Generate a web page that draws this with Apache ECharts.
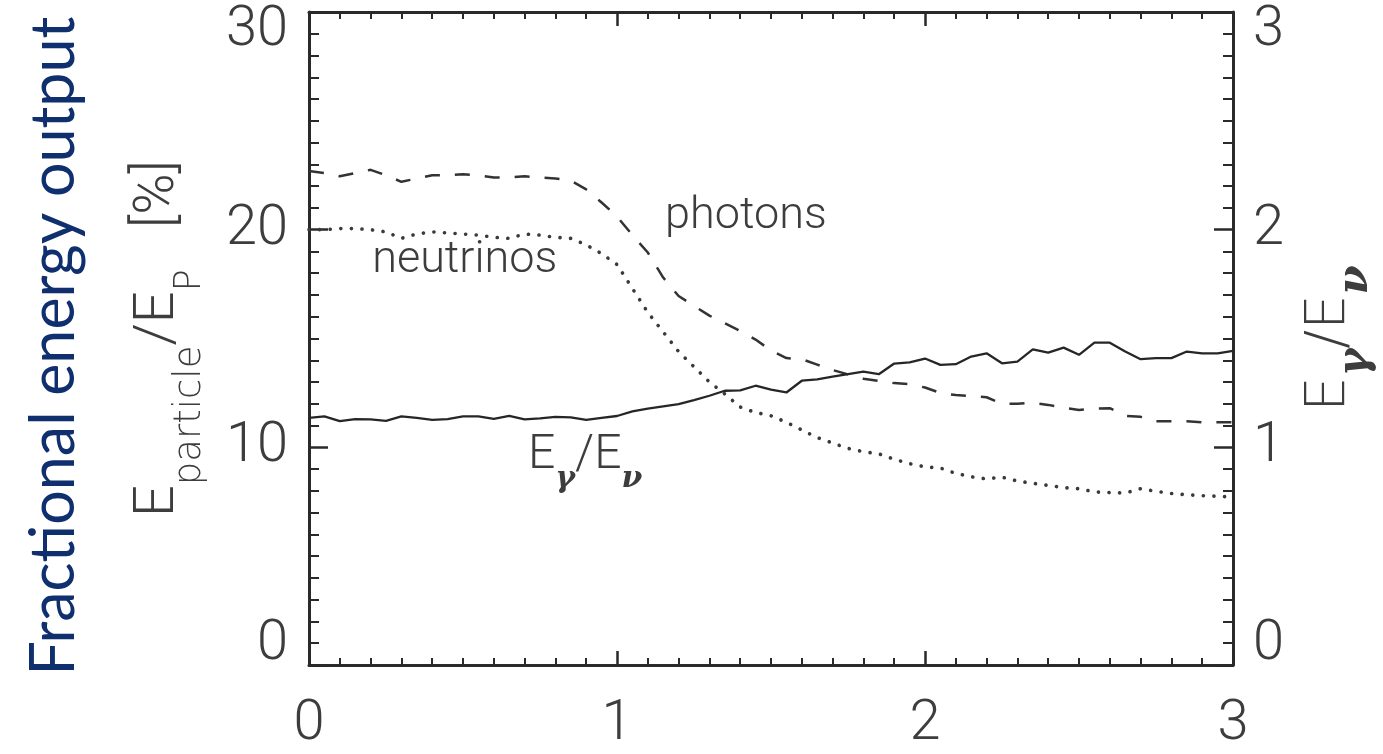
<!DOCTYPE html>
<html>
<head>
<meta charset="utf-8">
<script src="https://cdn.jsdelivr.net/npm/echarts@6/dist/echarts.min.js"></script>
<style>
  html, body { margin: 0; padding: 0; background: #ffffff; }
  #chart { width: 1383px; height: 754px; }
</style>
</head>
<body>
<div id="chart"></div>
<script>
// Abscissa samples shared by all three curves
const xPos = [0, 0.05, 0.1, 0.15, 0.2, 0.25, 0.3, 0.35, 0.4, 0.45, 0.5, 0.55, 0.6, 0.65, 0.7, 0.75, 0.8, 0.85, 0.9, 0.95,
  1, 1.05, 1.1, 1.15, 1.2, 1.25, 1.3, 1.35, 1.4, 1.45, 1.5, 1.55, 1.6, 1.65, 1.7, 1.75, 1.8, 1.85, 1.9, 1.95,
  2, 2.05, 2.1, 2.15, 2.2, 2.25, 2.3, 2.35, 2.4, 2.45, 2.5, 2.55, 2.6, 2.65, 2.7, 2.75, 2.8, 2.85, 2.9, 2.95, 3];

// Energy fraction carried by photons [%] (left axis)
const photons = [22.7, 22.6, 22.45, 22.6, 22.75, 22.5, 22.2, 22.35, 22.5, 22.5, 22.55, 22.5, 22.4, 22.4, 22.45, 22.4, 22.35, 22.25, 21.85, 21.25,
  20.6, 19.75, 18.95, 17.8, 16.95, 16.5, 16.05, 15.7, 15.35, 14.95, 14.45, 14.1, 14.05, 13.8, 13.55, 13.35, 13.15, 13.05, 12.95, 12.9,
  12.75, 12.5, 12.4, 12.35, 12.3, 12.0, 12.0, 12.05, 11.95, 11.82, 11.72, 11.78, 11.8, 11.45, 11.4, 11.2, 11.2, 11.2, 11.15, 11.15, 11.15];

// Energy fraction carried by neutrinos [%] (left axis)
const neutrinos = [20.0, 20.0, 20.05, 20.05, 20.0, 19.9, 19.6, 19.8, 19.9, 19.85, 19.8, 19.75, 19.65, 19.6, 19.8, 19.75, 19.65, 19.6, 19.3, 18.9,
  18.4, 17.3, 16.2, 15.3, 14.4, 13.7, 13.0, 12.45, 11.85, 11.6, 11.45, 11.15, 10.8, 10.45, 10.2, 9.95, 9.8, 9.7, 9.45, 9.25,
  9.1, 9.05, 8.8, 8.65, 8.55, 8.63, 8.45, 8.35, 8.25, 8.15, 8.1, 7.95, 7.92, 7.9, 8.1, 7.98, 7.88, 7.82, 7.78, 7.75, 7.72];

// Photon-to-neutrino energy ratio (right axis)
const ratio = [1.135, 1.142, 1.12, 1.13, 1.128, 1.122, 1.142, 1.135, 1.126, 1.13, 1.142, 1.142, 1.131, 1.144, 1.128, 1.133, 1.14, 1.138, 1.126, 1.135,
  1.144, 1.165, 1.178, 1.188, 1.198, 1.217, 1.237, 1.26, 1.262, 1.283, 1.265, 1.252, 1.306, 1.312, 1.325, 1.336, 1.348, 1.336, 1.385, 1.39,
  1.408, 1.379, 1.382, 1.417, 1.432, 1.386, 1.394, 1.45, 1.435, 1.458, 1.425, 1.481, 1.481, 1.44, 1.405, 1.41, 1.41, 1.44, 1.432, 1.432, 1.443];

// Tick labels
const xTicks = ['0', '1', '2', '3'];
const leftTicks = ['0', '10', '20', '30'];
const rightTicks = ['0', '1', '2', '3'];

const INK = '#2a2a2a';
const LABEL = '#3d3d3d';
const THIN = 'Roboto, "DejaVu Sans", sans-serif';
const WIDE = '"DejaVu Sans", Roboto, sans-serif';

const digit = { fontFamily: THIN, fontWeight: 300, fontSize: 56, color: LABEL };

// End labels of the vertical axes sit inside the frame (top one lowered, bottom one raised)
function vLabel(ticks, step) {
  return function (v) {
    const i = Math.round(v / step);
    const t = ticks[i];
    if (i === ticks.length - 1) return '{hi|' + t + '}';
    if (i === 0) return '{lo|' + t + '}';
    return '{mid|' + t + '}';
  };
}
const vRich = {
  hi: Object.assign({}, digit, { padding: [38, 0, 0, 0] }),
  lo: Object.assign({}, digit, { padding: [0, 0, 40, 0] }),
  mid: Object.assign({}, digit)
};

function frameAxis(extra) {
  return Object.assign({
    type: 'value',
    axisLine: { show: true, onZero: false, lineStyle: { color: INK, width: 3 } },
    splitLine: { show: false },
    minorSplitLine: { show: false }
  }, extra);
}

const xTickStyle = {
  axisTick: { show: true, inside: true, length: 14, lineStyle: { color: INK, width: 2.5 } },
  minorTick: { show: true, splitNumber: 10, length: 7, lineStyle: { color: INK, width: 2 } }
};
const yTickStyle = {
  axisTick: { show: true, inside: true, length: 19, lineStyle: { color: INK, width: 2.5 } },
  minorTick: { show: true, splitNumber: 10, length: 10, lineStyle: { color: INK, width: 2 } }
};

const titleFont = { fontFamily: THIN, fontWeight: 300, color: LABEL };
const subFont = { fontFamily: WIDE, fontWeight: 200, color: LABEL };
const greek = { fontFamily: '"DejaVu Serif", serif', fontStyle: 'italic', fontWeight: 'bold', color: LABEL };

const chart = echarts.init(document.getElementById('chart'));

chart.setOption({
  animation: false,
  backgroundColor: '#ffffff',
  grid: { left: 309, right: 150, top: 12, bottom: 89, outerBoundsMode: 'none' },
  xAxis: [
    frameAxis(Object.assign({
      position: 'bottom', min: 0, max: 3, interval: 1,
      axisLabel: Object.assign({ margin: 32, formatter: function (v) { return xTicks[Math.round(v)]; } }, digit)
    }, xTickStyle)),
    frameAxis(Object.assign({
      position: 'top', min: 0, max: 3, interval: 1,
      axisLabel: { show: false }
    }, xTickStyle))
  ],
  yAxis: [
    frameAxis(Object.assign({
      position: 'left', min: 0, max: 30, interval: 10,
      axisLabel: { margin: 21, formatter: vLabel(leftTicks, 10), rich: vRich },
      name: '{e|E}{s|particle}{e|/E}{s|P}{e|   [%]}',
      nameLocation: 'middle', nameRotate: 90, nameGap: 122, nameMoveOverlap: false,
      nameTextStyle: {
        rich: {
          e: Object.assign({ fontSize: 56, lineHeight: 56, verticalAlign: 'top' }, titleFont),
          s: Object.assign({ fontSize: 37, lineHeight: 37, verticalAlign: 'top', padding: [41, 0, 0, 0] }, subFont)
        }
      }
    }, yTickStyle)),
    frameAxis(Object.assign({
      position: 'right', min: 0, max: 3, interval: 1,
      axisLabel: { margin: 20, formatter: vLabel(rightTicks, 1), rich: vRich },
      name: '{e|E}{g|γ}{e|/E}{g|ν}',
      nameLocation: 'middle', nameRotate: 90, nameGap: 68, nameMoveOverlap: false,
      nameTextStyle: {
        rich: {
          e: Object.assign({ fontSize: 56, lineHeight: 56, verticalAlign: 'top' }, subFont),
          g: Object.assign({ fontSize: 42, lineHeight: 42, verticalAlign: 'top', padding: [34, 0, 0, 0] }, greek)
        }
      }
    }, yTickStyle))
  ],
  series: [
    {
      name: 'photons', type: 'line', xAxisIndex: 0, yAxisIndex: 0, symbol: 'none', silent: true,
      data: xPos.map(function (x, i) { return [x, photons[i]]; }),
      lineStyle: { color: '#333333', width: 2.5, type: [15, 15] }
    },
    {
      name: 'neutrinos', type: 'line', xAxisIndex: 0, yAxisIndex: 0, symbol: 'none', silent: true,
      data: xPos.map(function (x, i) { return [x, neutrinos[i]]; }),
      lineStyle: { color: '#3a3a3a', width: 3.6, type: [0.1, 10.5], cap: 'round' }
    },
    {
      name: 'ratio', type: 'line', xAxisIndex: 0, yAxisIndex: 1, symbol: 'none', silent: true,
      data: xPos.map(function (x, i) { return [x, ratio[i]]; }),
      lineStyle: { color: '#262626', width: 2.3 }
    }
  ]
});

// In-plot curve labels, anchored in data coordinates
function at(x, y) { return chart.convertToPixel({ xAxisIndex: 0, yAxisIndex: 0 }, [x, y]); }
const pPh = at(1.156, 21.65);
const pNu = at(0.205, 19.59);
const pRa = at(0.711, 10.7);

const plainLabel = { fontFamily: THIN, fontWeight: 300, fontSize: 45, fill: LABEL, align: 'left', verticalAlign: 'top' };

chart.setOption({
  graphic: [
    {
      type: 'text', x: 54, y: 346, rotation: Math.PI / 2, silent: true,
      style: { text: 'Fractional energy output', fontFamily: 'Lato, "Open Sans", sans-serif', fontSize: 61,
        fill: '#102f6e', align: 'center', verticalAlign: 'middle' }
    },
    { type: 'text', x: pPh[0], y: pPh[1], silent: true, style: Object.assign({ text: 'photons' }, plainLabel) },
    { type: 'text', x: pNu[0], y: pNu[1], silent: true, style: Object.assign({ text: 'neutrinos' }, plainLabel) },
    {
      type: 'text', x: pRa[0], y: pRa[1], silent: true,
      style: {
        text: '{e|E}{g|γ}{e|/E}{g|ν}', align: 'left', verticalAlign: 'top',
        rich: {
          e: { fontFamily: THIN, fontWeight: 300, fontSize: 48, lineHeight: 48, verticalAlign: 'top', fill: LABEL, color: LABEL },
          g: { fontFamily: '"DejaVu Serif", serif', fontStyle: 'italic', fontWeight: 'bold', fontSize: 30, lineHeight: 30,
            verticalAlign: 'top', padding: [32, 0, 0, 0], fill: LABEL, color: LABEL }
        }
      }
    }
  ]
});
</script>
</body>
</html>
